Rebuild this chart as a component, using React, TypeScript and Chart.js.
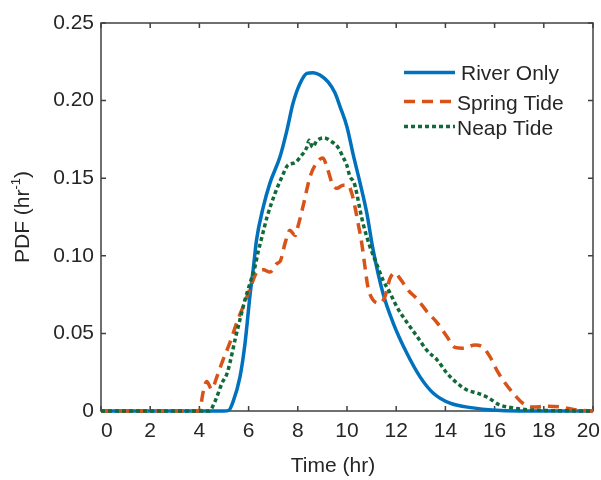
import React, { useEffect, useRef } from "react";
import { Chart, registerables } from "chart.js";

Chart.register(...registerables);

const riverTime = [0, 5.0, 5.2, 5.37, 5.65, 5.85, 6.06, 6.2, 6.32, 6.59, 6.87, 7.28, 7.56, 7.8, 8.09, 8.37, 8.62, 8.9, 9.23, 9.51, 9.72, 10.0, 10.24, 10.53, 10.8, 11.06, 11.46, 11.87, 12.44, 12.97, 13.5, 14.19, 15.12, 15.9, 17.0, 20];
const riverPdf = [0, 0, 0.0005, 0.006, 0.022, 0.043, 0.075, 0.093, 0.11, 0.131, 0.147, 0.164, 0.181, 0.198, 0.211, 0.2175, 0.218, 0.2165, 0.212, 0.205, 0.196, 0.183, 0.166, 0.147, 0.128, 0.104, 0.076, 0.057, 0.037, 0.022, 0.0116, 0.005, 0.002, 0.0006, 0, 0];

const springTime = [0, 4.0, 4.15, 4.3, 4.5, 4.71, 4.96, 5.24, 5.52, 5.77, 6.06, 6.34, 6.6, 6.87, 7.15, 7.3, 7.48, 7.68, 7.89, 8.0, 8.2, 8.5, 8.77, 9.02, 9.19, 9.39, 9.59, 9.84, 10.04, 10.2, 10.33, 10.45, 10.6, 10.73, 10.85, 11.06, 11.34, 11.54, 11.75, 11.95, 12.15, 12.48, 12.89, 13.25, 13.66, 14.06, 14.39, 14.72, 15.2, 15.53, 15.81, 16.1, 16.34, 16.75, 17.15, 17.56, 18.1, 18.67, 19.35, 20];
const springPdf = [0, 0, 0.012, 0.019, 0.014, 0.022, 0.033, 0.044, 0.057, 0.067, 0.079, 0.0895, 0.091, 0.0895, 0.095, 0.097, 0.108, 0.1165, 0.113, 0.1185, 0.131, 0.151, 0.16, 0.163, 0.157, 0.147, 0.1435, 0.1455, 0.1455, 0.14, 0.131, 0.121, 0.108, 0.093, 0.08, 0.0715, 0.0695, 0.0735, 0.0855, 0.089, 0.0855, 0.078, 0.0715, 0.064, 0.057, 0.048, 0.041, 0.0405, 0.0425, 0.041, 0.035, 0.026, 0.02, 0.0116, 0.005, 0.0026, 0.003, 0.0026, 0.0006, 0];

const neapTime = [0, 4.4, 4.63, 4.92, 5.12, 5.24, 5.45, 5.65, 5.85, 6.06, 6.26, 6.38, 6.54, 6.75, 7.07, 7.36, 7.6, 7.89, 8.09, 8.37, 8.46, 8.6, 8.77, 9.07, 9.38, 9.65, 9.84, 9.99, 10.12, 10.28, 10.4, 10.53, 10.65, 10.93, 11.2, 11.46, 11.75, 12.03, 12.44, 12.85, 13.25, 13.66, 14.06, 14.47, 14.88, 15.28, 15.69, 16.2, 16.75, 17.56, 20];
const neapPdf = [0, 0, 0.006, 0.018, 0.024, 0.031, 0.046, 0.059, 0.0715, 0.0825, 0.093, 0.102, 0.112, 0.125, 0.14, 0.151, 0.1585, 0.16, 0.1635, 0.17, 0.1745, 0.17, 0.174, 0.176, 0.1735, 0.1695, 0.1635, 0.1585, 0.151, 0.1475, 0.14, 0.1295, 0.121, 0.106, 0.095, 0.0845, 0.076, 0.067, 0.057, 0.048, 0.039, 0.033, 0.0245, 0.018, 0.0135, 0.0116, 0.009, 0.004, 0.002, 0.0006, 0];

const seriesNames = ["River Only", "Spring Tide", "Neap Tide"];
const xTitle = "Time (hr)";

const FONT = "'Liberation Sans', Arial, Helvetica, sans-serif";
const TEXT = "#262626";
const AXIS = "#404040";

const toPts = (xs: number[], ys: number[]) => xs.map((x, i) => ({ x, y: ys[i] }));

const framePlugin = {
  id: "frame",
  beforeDatasetsDraw(chart: any) {
    const { ctx, chartArea: a, scales } = chart;
    ctx.save();
    ctx.strokeStyle = AXIS;
    ctx.lineWidth = 1.5;
    ctx.strokeRect(a.left, a.top, a.right - a.left, a.bottom - a.top);
    const L = 5;
    ctx.beginPath();
    scales.x.ticks.forEach((t: any) => {
      const px = scales.x.getPixelForValue(t.value);
      ctx.moveTo(px, a.bottom);
      ctx.lineTo(px, a.bottom - L);
      ctx.moveTo(px, a.top);
      ctx.lineTo(px, a.top + L);
    });
    scales.y.ticks.forEach((t: any) => {
      const py = scales.y.getPixelForValue(t.value);
      ctx.moveTo(a.left, py);
      ctx.lineTo(a.left + L, py);
      ctx.moveTo(a.right, py);
      ctx.lineTo(a.right - L, py);
    });
    ctx.stroke();
    // x tick labels, kept inside the figure
    ctx.fillStyle = TEXT;
    ctx.font = `21px ${FONT}`;
    ctx.textAlign = "center";
    ctx.textBaseline = "alphabetic";
    scales.x.ticks.forEach((t: any) => {
      const label = String(t.value);
      const w = ctx.measureText(label).width;
      let px = scales.x.getPixelForValue(t.value);
      px = Math.max(a.left + w / 2, Math.min(chart.width - 1 - w / 2, px));
      ctx.fillText(label, px, 437);
    });
    ctx.restore();
  },
  afterDraw(chart: any) {
    const { ctx } = chart;
    ctx.save();
    ctx.fillStyle = TEXT;
    ctx.font = `21px ${FONT}`;
    // x title
    ctx.textAlign = "center";
    ctx.textBaseline = "middle";
    ctx.fillText(xTitle, 333, 466);
    // y title with superscript
    ctx.save();
    ctx.translate(21, 217);
    ctx.rotate(-Math.PI / 2);
    const main = "PDF (hr";
    const sup = "-1";
    const close = ")";
    ctx.font = `21px ${FONT}`;
    const w1 = ctx.measureText(main).width;
    const w3 = ctx.measureText(close).width;
    ctx.font = `13px ${FONT}`;
    const w2 = ctx.measureText(sup).width;
    const total = w1 + w2 + w3;
    const x0 = -total / 2;
    ctx.textAlign = "left";
    ctx.textBaseline = "alphabetic";
    ctx.font = `21px ${FONT}`;
    ctx.fillText(main, x0, 8);
    ctx.font = `13px ${FONT}`;
    ctx.fillText(sup, x0 + w1, -1);
    ctx.font = `21px ${FONT}`;
    ctx.fillText(close, x0 + w1 + w2, 8);
    ctx.restore();
    // legend
    const items = [
      { ds: chart.data.datasets[0], ly: 72.5, tx: 461, ty: 80 },
      { ds: chart.data.datasets[1], ly: 101.5, tx: 457, ty: 110 },
      { ds: chart.data.datasets[2], ly: 126.5, tx: 457, ty: 135 },
    ];
    items.forEach((it) => {
      ctx.save();
      ctx.strokeStyle = it.ds.borderColor;
      ctx.lineWidth = it.ds.borderWidth;
      ctx.setLineDash(it.ds.borderDash || []);
      ctx.beginPath();
      ctx.moveTo(404, it.ly);
      ctx.lineTo(455, it.ly);
      ctx.stroke();
      ctx.restore();
      ctx.textAlign = "left";
      ctx.textBaseline = "alphabetic";
      ctx.font = `21px ${FONT}`;
      ctx.fillStyle = TEXT;
      ctx.fillText(it.ds.label, it.tx, it.ty);
    });
    ctx.restore();
  },
};

export default function App() {
  const ref = useRef<HTMLCanvasElement | null>(null);
  useEffect(() => {
    document.body.style.margin = "0";
    const chart = new Chart(ref.current as HTMLCanvasElement, {
      type: "line",
      data: {
        datasets: [
          {
            label: seriesNames[0],
            data: toPts(riverTime, riverPdf),
            borderColor: "#0072BD",
            borderWidth: 3.5,
            pointRadius: 0,
            cubicInterpolationMode: "monotone",
            clip: false as any,
            order: 2,
          },
          {
            label: seriesNames[1],
            data: toPts(springTime, springPdf),
            borderColor: "#D95319",
            borderWidth: 3.5,
            borderDash: [11, 7],
            pointRadius: 0,
            cubicInterpolationMode: "monotone",
            clip: false as any,
            order: 1,
          },
          {
            label: seriesNames[2],
            data: toPts(neapTime, neapPdf),
            borderColor: "#12693A",
            borderWidth: 3.5,
            borderDash: [4, 3],
            pointRadius: 0,
            cubicInterpolationMode: "monotone",
            clip: false as any,
            order: 0,
          },
        ],
      },
      options: {
        animation: false,
        responsive: false,
        devicePixelRatio: 1,
        layout: { padding: { left: 0, right: 8, top: 23, bottom: 0 } },
        plugins: { legend: { display: false }, tooltip: { enabled: false } },
        scales: {
          x: {
            type: "linear",
            min: 0,
            max: 20,
            border: { display: false },
            grid: { display: false, drawTicks: false },
            ticks: {
              stepSize: 2,
              display: false,
            },
            afterFit: (s: any) => {
              s.height = 69;
              s.paddingLeft = 0;
              s.paddingRight = 0;
            },
          },
          y: {
            type: "linear",
            min: 0,
            max: 0.25,
            border: { display: false },
            grid: { display: false, drawTicks: false },
            ticks: {
              stepSize: 0.05,
              padding: 7,
              color: TEXT,
              font: { family: FONT, size: 21 },
              callback: (v: any) => (Math.abs(Number(v)) < 1e-9 ? "0" : Number(v).toFixed(2)),
            },
            afterFit: (s: any) => {
              s.width = 101;
              s.paddingTop = 0;
              s.paddingBottom = 0;
            },
          },
        },
      },
      plugins: [framePlugin],
    });
    return () => chart.destroy();
  }, []);
  return (
    <div style={{ position: "absolute", left: 0, top: 0, width: 601, height: 480, background: "#fff" }}>
      <canvas ref={ref} width={601} height={480} style={{ width: 601, height: 480 }} />
    </div>
  );
}
